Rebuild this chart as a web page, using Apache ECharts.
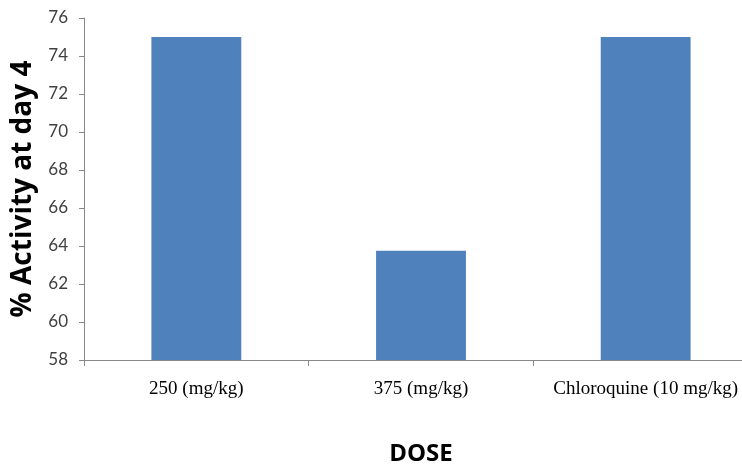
<!DOCTYPE html>
<html><head><meta charset="utf-8">
<script src="https://cdn.jsdelivr.net/npm/echarts@6/dist/echarts.min.js"></script>
<style>html,body{margin:0;padding:0;background:#fff;overflow:hidden;width:742px;height:464px}#c{width:760px;height:464px}</style>
</head><body><div id="c"></div>
<script>
const categories = ['250 (mg/kg)', '375 (mg/kg)', 'Chloroquine (10 mg/kg)'];
const activity = [75, 63.75, 75];
const yMin = 58, yMax = 76, yStep = 2;

const chart = echarts.init(document.getElementById('c'), null, {renderer: 'canvas'});
chart.setOption({
  animation: false,
  backgroundColor: '#ffffff',
  grid: {left: 84, top: 18, bottom: 104, right: 2, containLabel: false, outerBoundsMode: 'none'},
  xAxis: {
    type: 'category',
    data: categories,
    name: 'DOSE',
    nameLocation: 'middle',
    nameGap: 82,
    nameTextStyle: {fontFamily: 'Open Sans', fontWeight: 'bold', fontSize: 24, color: '#000'},
    axisLine: {lineStyle: {color: '#888888', width: 1}},
    axisTick: {show: true, length: 6, lineStyle: {color: '#888888'}},
    axisLabel: {fontFamily: 'Liberation Serif', fontSize: 19, color: '#000', margin: 20, interval: 0}
  },
  yAxis: {
    type: 'value',
    min: yMin, max: yMax, interval: yStep,
    name: '% Activity at day 4',
    nameLocation: 'middle',
    nameGap: 30,
    nameTextStyle: {fontFamily: 'Open Sans', fontWeight: 'bold', fontSize: 28, color: '#000'},
    axisLine: {show: true, lineStyle: {color: '#888888', width: 1}},
    axisTick: {show: true, length: 5, lineStyle: {color: '#888888'}},
    splitLine: {show: false},
    axisLabel: {fontFamily: 'Lato', fontSize: 17, color: '#404040', margin: 16}
  },
  series: [{
    type: 'bar',
    data: activity,
    barWidth: '40%',
    itemStyle: {color: '#4F81BD'}
  }]
});
</script></body></html>
